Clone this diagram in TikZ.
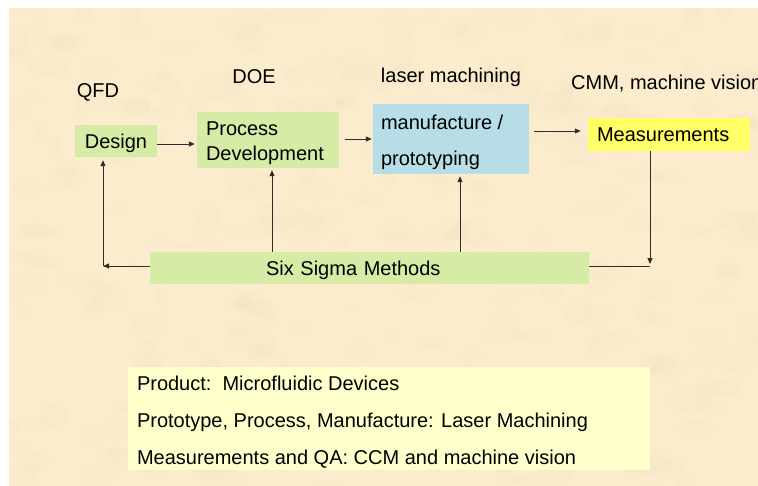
\documentclass[tikz,border=0pt]{standalone}
\usepackage{fontspec}
\setmainfont{Liberation Sans}
\usetikzlibrary{arrows.meta,calc}

\definecolor{parchment}{RGB}{251,236,206}
\definecolor{mottle}{RGB}{220,195,150}
\definecolor{boxgreen}{RGB}{214,236,166}
\definecolor{boxblue}{RGB}{183,222,230}
\definecolor{boxyellow}{RGB}{255,255,102}
\definecolor{notebox}{RGB}{255,255,204}
\definecolor{linegray}{RGB}{45,45,45}

\tikzset{
  txt/.style={font=\fontsize{20}{24}\selectfont, text=black, inner sep=0pt},
  box/.style={txt, rectangle, draw=none, text height=15pt, text depth=1pt},
  flow/.style={draw=linegray, line width=1pt, -{Triangle[length=6pt,width=5pt]}},
  plain/.style={draw=linegray, line width=1pt},
}

\begin{document}
\begin{tikzpicture}[x=1pt,y=-1pt]
  \useasboundingbox (0,0) rectangle (758,485);
  \clip (0,0) rectangle (758,485);
  \fill[white] (0,0) rectangle (758,485);
  \fill[parchment] (9,8) rectangle (762,490);

  % faint mottled paper texture
  \begin{scope}
    \clip (9,8) rectangle (762,490);
    \pgfmathsetseed{11}
    \foreach \i in {1,...,300}{
      \pgfmathsetmacro{\px}{9+753*rnd}
      \pgfmathsetmacro{\py}{8+480*rnd}
      \pgfmathsetmacro{\rx}{6+16*rnd}
      \pgfmathsetmacro{\ry}{4+10*rnd}
      \fill[mottle, opacity=0.035] (\px,\py) ellipse [x radius=\rx, y radius=\ry];
    }
  \end{scope}

  % headings above the process chain
  \node[txt, anchor=base] (qfd) at (98,97) {QFD};
  \node[txt, anchor=base] (doe) at (254,83) {DOE};
  \node[txt, anchor=base] (laser) at (451,82) {laser machining};
  \node[txt, anchor=base west] (cmm) at (571,89) {CMM, machine vision};

  % process chain
  \node[box, fill=boxgreen, minimum width=82, minimum height=32] (design) at (116,141) {Design};
  \node[box, fill=boxgreen, minimum width=142, minimum height=56] (proc) at (268,140) {};
  \node[txt, anchor=base west] at ($(proc.west)+(9,-5)$) {Process};
  \node[txt, anchor=base west] at ($(proc.west)+(9,20)$) {Development};
  \node[box, fill=boxblue, minimum width=156, minimum height=70] (manu) at (451,139) {};
  \node[txt, anchor=base west] at ($(manu.west)+(8,-10)$) {manufacture /};
  \node[txt, anchor=base west] at ($(manu.west)+(8,26)$) {prototyping};
  \node[box, fill=boxyellow, minimum width=162, minimum height=33, align=left,
        text width=144, inner xsep=9] (meas) at (669,134.5) {Measurements};

  % feedback bar
  \node[box, fill=boxgreen, minimum width=439, minimum height=32, align=left,
        text width=207, inner xsep=116] (six) at (369.5,268) {Six Sigma Methods};

  \coordinate (cl) at (103,266);
  \coordinate (cr) at (650,266);

  % forward arrows
  \draw[flow, shorten >=2pt] ($(design.east)+(0,3)$) -- ($(proc.west)+(0,4)$);
  \draw[flow, shorten <=6pt, shorten >=1pt] ($(proc.east)+(0,-1)$) -- ($(manu.west)+(0,0)$);
  \draw[flow, shorten <=5pt, shorten >=7pt] ($(manu.east)+(0,-8)$) -- ($(meas.west)+(0,-3.5)$);

  % feedback loop
  \draw[flow, shorten >=2pt] (meas.south -| cr) -- (cr);
  \draw[plain] (six.east |- cr) -- (cr);
  \draw[flow] (six.west |- cl) -- (cl);
  \draw[flow, shorten >=3pt] (cl) -- (design.south -| cl);
  \draw[flow, shorten >=2pt] (six.north -| 272,0) -- (proc.south -| 272,0);
  \draw[flow, shorten >=2pt] (six.north -| 460,0) -- (manu.south -| 460,0);

  % summary
  \node[box, fill=notebox, minimum width=522, minimum height=103] (note) at (389,418.5) {};
  \node[txt, anchor=base west] at ($(note.west)+(9,-28.5)$) {Product:\ \ Microfluidic Devices};
  \node[txt, anchor=base west] at ($(note.west)+(9,8.5)$) {Prototype, Process, Manufacture: Laser Machining};
  \node[txt, anchor=base west] at ($(note.west)+(9,45.5)$) {Measurements and QA: CCM and machine vision};
\end{tikzpicture}
\end{document}
